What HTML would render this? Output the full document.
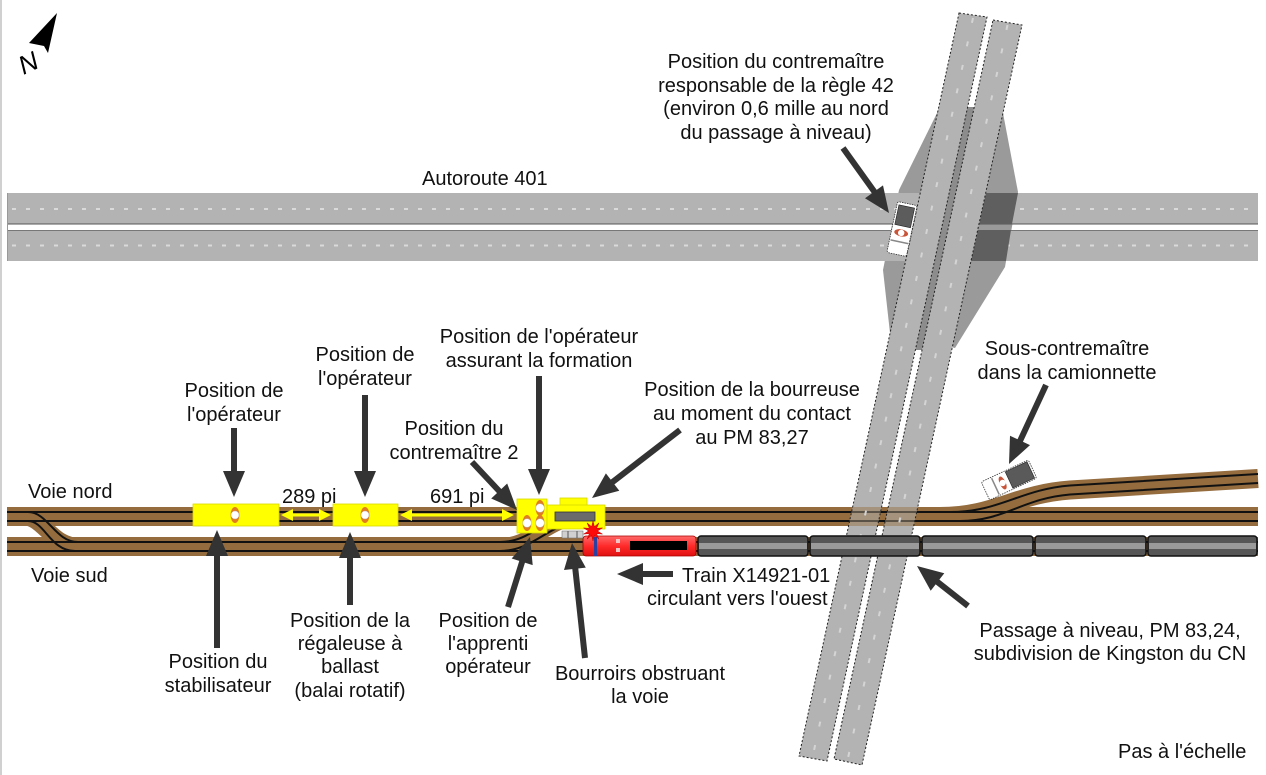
<!DOCTYPE html>
<html><head><meta charset="utf-8"><style>
html,body{margin:0;padding:0;background:#fff;}
svg{display:block;}
text{font-family:"Liberation Sans",Arial,sans-serif;font-size:20px;fill:#111;}
</style></head><body>
<svg width="1266" height="775" viewBox="0 0 1266 775" xmlns="http://www.w3.org/2000/svg">
<defs>
<linearGradient id="loco" x1="0" y1="0" x2="0" y2="1">
<stop offset="0" stop-color="#ff6a6a"/><stop offset="0.5" stop-color="#ff2a2a"/><stop offset="1" stop-color="#e01010"/>
</linearGradient>
<clipPath id="strips">
<polygon points="959,13 987,17 827,761 799,756"/>
<polygon points="993,20 1022,25 862,765 834,759"/>
</clipPath>
</defs>
<rect x="0" y="0" width="1266" height="775" fill="#fff"/>
<rect x="0" y="0" width="2" height="775" fill="#d0d0d0"/>

<!-- north arrow -->
<polygon points="57,13 29,43 44,46 48,53" fill="#000"/>
<text transform="translate(32,71) rotate(-25)" text-anchor="middle" style="font-size:26px;font-style:italic;fill:#000">N</text>

<!-- embankment -->
<polygon points="940,107 899,190 883,270 890,333 955,348 1005,267 1018,192 1003,113" fill="#9a9a9a"/>

<!-- highways -->
<rect x="7" y="193" width="1251" height="31" fill="#b3b3b3"/>
<rect x="7" y="230" width="1251" height="31" fill="#b3b3b3"/>
<line x1="7" y1="224" x2="1258" y2="224" stroke="#555" stroke-width="1"/>
<line x1="7" y1="230.5" x2="1258" y2="230.5" stroke="#777" stroke-width="1"/>
<line x1="7.5" y1="193" x2="7.5" y2="261" stroke="#999" stroke-width="1"/>
<line x1="12" y1="209" x2="1258" y2="209" stroke="#dadada" stroke-width="2" stroke-dasharray="4 10"/>
<line x1="12" y1="245.5" x2="1258" y2="245.5" stroke="#dadada" stroke-width="2" stroke-dasharray="4 10"/>
<!-- dark patches on right side over highway -->
<polygon points="986,193 1018,193 1012,224 979,224" fill="#5f5f5f"/>
<polygon points="978,230 1011,230 1006,261 971,261" fill="#5f5f5f"/>
<!-- median -->
<polygon points="967,107 975,107 922,350 915,350" fill="#8c8c8c"/>

<!-- tracks -->
<rect x="7" y="507" width="1251" height="19" fill="#946c3e"/>
<rect x="7" y="537" width="1251" height="19" fill="#946c3e"/>
<path d="M22 516.5 C45 516.5 50 546.5 80 546.5" stroke="#946c3e" stroke-width="17" fill="none"/>
<path d="M500 546.5 C535 546.5 545 516.5 585 516.5" stroke="#946c3e" stroke-width="17" fill="none"/>
<path d="M940 516.5 C995 516.5 1015 494 1070 490 L1258 478.5" stroke="#946c3e" stroke-width="19" fill="none"/>
<g stroke="#111" stroke-width="2" fill="none">
<line x1="7" y1="512" x2="1258" y2="512"/>
<line x1="7" y1="521" x2="1258" y2="521"/>
<line x1="7" y1="542" x2="1258" y2="542"/>
<line x1="7" y1="551" x2="1258" y2="551"/>
<path d="M28 512 C48 512 55 542 78 542"/>
<path d="M28 521 C45 521 50 551 75 551"/>
<path d="M500 542 C535 542 545 512 585 512"/>
<path d="M500 551 C535 551 550 521 585 521"/>
<path d="M950 512 C1000 512 1020 489.5 1070 485.5 L1258 474"/>
<path d="M960 521 C1005 521 1022 498.5 1070 494.5 L1258 483"/>
</g>

<!-- overpass strips -->
<polygon points="959,13 987,17 827,761 799,756" fill="#b3b3b3"/>
<polygon points="993,20 1022,25 862,765 834,759" fill="#b3b3b3"/>
<!-- track showing through strips -->
<g clip-path="url(#strips)">
<rect x="780" y="507" width="200" height="19" fill="#946c3e" opacity="0.45"/>
<line x1="780" y1="512" x2="980" y2="512" stroke="#111" stroke-width="2" opacity="0.5"/>
<line x1="780" y1="521" x2="980" y2="521" stroke="#111" stroke-width="2" opacity="0.5"/>
</g>
<g fill="none" stroke="#222" stroke-width="1" stroke-dasharray="2 2">
<polygon points="959,13 987,17 827,761 799,756"/>
<polygon points="993,20 1022,25 862,765 834,759"/>
</g>
<line x1="973" y1="18" x2="813" y2="755" stroke="#d4d4d4" stroke-width="2" stroke-dasharray="5 19"/>
<line x1="1007.5" y1="25" x2="848" y2="758" stroke="#d4d4d4" stroke-width="2" stroke-dasharray="5 19"/>

<!-- car on overpass -->
<g transform="translate(902,229) rotate(12)">
<rect x="-10" y="-26" width="20" height="52" rx="2" fill="#fff" stroke="#333" stroke-width="0.8" stroke-dasharray="1.5 1"/>
<rect x="-8" y="-23" width="16" height="20" fill="#5c5c5c" stroke="#222" stroke-width="0.6"/>
<ellipse cx="0" cy="4" rx="7" ry="3.5" fill="#c8553a"/>
<circle cx="0" cy="4" r="3.2" fill="#fff"/>
<line x1="-9" y1="13" x2="9" y2="13" stroke="#888" stroke-width="1.5"/>
</g>

<!-- camionnette -->
<g transform="translate(1009,480) rotate(-25)">
<rect x="-26" y="-10" width="52" height="20" rx="2" fill="#fff" stroke="#333" stroke-width="0.8" stroke-dasharray="1.5 1"/>
<rect x="0" y="-9" width="24" height="18" fill="#5a5a5a" stroke="#222" stroke-width="0.6"/>
<line x1="-15" y1="-9" x2="-15" y2="9" stroke="#888" stroke-width="1.5"/>
<ellipse cx="-7" cy="0" rx="3" ry="7" fill="#c8553a"/>
<circle cx="-7" cy="0" r="3.2" fill="#fff"/>
</g>

<!-- machines -->
<rect x="193" y="504" width="86" height="22" fill="#ffff00" stroke="#d8d800" stroke-width="0.8"/>
<rect x="333" y="504" width="65" height="22" fill="#ffff00" stroke="#d8d800" stroke-width="0.8"/>
<g>
<ellipse cx="235" cy="515" rx="4.5" ry="8" fill="#e07d20"/>
<circle cx="235" cy="515" r="4" fill="#fff" stroke="#bbb" stroke-width="0.5"/>
<ellipse cx="365" cy="515" rx="4.5" ry="8" fill="#e07d20"/>
<circle cx="365" cy="515" r="4" fill="#fff" stroke="#bbb" stroke-width="0.5"/>
</g>
<!-- bourroirs -->
<rect x="562" y="531" width="21" height="7" fill="#d0d0d0" stroke="#777" stroke-width="0.6"/>
<line x1="568" y1="531" x2="568" y2="538" stroke="#555"/><line x1="577" y1="531" x2="577" y2="538" stroke="#555"/>
<!-- operator box -->
<rect x="517" y="499" width="30" height="34" fill="#ffff00" stroke="#d8d800" stroke-width="0.8"/>
<ellipse cx="540" cy="508" rx="4.5" ry="8" fill="#e07d20"/>
<circle cx="540" cy="508" r="4.3" fill="#fff" stroke="#bbb" stroke-width="0.5"/>
<ellipse cx="527" cy="523" rx="4.5" ry="8" fill="#e07d20"/>
<circle cx="527" cy="523" r="4.3" fill="#fff" stroke="#bbb" stroke-width="0.5"/>
<ellipse cx="540" cy="523" rx="4.5" ry="8" fill="#e07d20"/>
<circle cx="540" cy="523" r="4.3" fill="#fff" stroke="#bbb" stroke-width="0.5"/>
<!-- tamper -->
<rect x="560" y="498" width="27" height="8" fill="#ffff00" stroke="#d8d800" stroke-width="0.8"/>
<rect x="547" y="505" width="58" height="24" fill="#ffff00" stroke="#d8d800" stroke-width="0.8"/>
<rect x="555" y="512" width="40" height="9" fill="#6b6b6b" stroke="#333" stroke-width="0.8"/>

<!-- train -->
<rect x="583" y="536" width="113" height="20" rx="3" fill="url(#loco)" stroke="#a00" stroke-width="0.8"/>
<rect x="594" y="537" width="3" height="19" fill="#2a3fa0"/>
<rect x="616" y="539" width="4" height="4" fill="#f4c4c4"/>
<rect x="616" y="548" width="4" height="4" fill="#f4c4c4"/>
<rect x="630" y="541" width="57" height="9" fill="#000"/>
<g stroke="#111" stroke-width="1.5">
<rect x="698" y="536" width="110" height="20" rx="3" fill="#565656"/>
<rect x="810" y="536" width="110" height="20" rx="3" fill="#565656"/>
<rect x="922" y="536" width="111" height="20" rx="3" fill="#565656"/>
<rect x="1035" y="536" width="111" height="20" rx="3" fill="#565656"/>
<rect x="1148" y="536" width="109" height="20" rx="3" fill="#565656"/>
</g>
<g fill="#9a9a9a">
<rect x="699" y="543" width="108" height="6"/>
<rect x="811" y="543" width="108" height="6"/>
<rect x="923" y="543" width="109" height="6"/>
<rect x="1036" y="543" width="109" height="6"/>
<rect x="1149" y="543" width="107" height="6"/>
</g>
<polygon points="593,521 594.4,526.7 598.9,522.9 596.6,528.4 602.5,527.9 597.5,531 602.5,534.1 596.6,533.6 598.9,539.1 594.4,535.3 593,541 591.6,535.3 587.1,539.1 589.4,533.6 583.5,534.1 588.5,531 583.5,527.9 589.4,528.4 587.1,522.9 591.6,526.7" fill="#ff0a0a" stroke="#b00" stroke-width="0.5"/>

<!-- yellow distance arrows -->
<g fill="#ffff00" stroke="#ffff00">
<line x1="290" y1="515" x2="322" y2="515" stroke-width="3"/>
<polygon points="281,515 293,509 293,521" stroke="none"/>
<polygon points="331,515 319,509 319,521" stroke="none"/>
<line x1="409" y1="515" x2="505" y2="515" stroke-width="3"/>
<polygon points="400,515 412,509 412,521" stroke="none"/>
<polygon points="514,515 502,509 502,521" stroke="none"/>
</g>

<!-- dark arrows -->
<g stroke="#333" stroke-width="6" fill="none">
<line x1="234" y1="428" x2="234" y2="474"/>
<line x1="365" y1="395" x2="365" y2="474"/>
<line x1="539" y1="376" x2="539" y2="472"/>
<line x1="472" y1="462" x2="501" y2="493"/>
<line x1="680" y1="430" x2="610" y2="484"/>
<line x1="843" y1="148" x2="876" y2="194"/>
<line x1="1046" y1="385" x2="1020" y2="441"/>
<line x1="217" y1="648" x2="217" y2="553"/>
<line x1="350" y1="605" x2="350" y2="555"/>
<line x1="508" y1="607" x2="523" y2="559"/>
<line x1="585" y1="658" x2="575" y2="566"/>
<line x1="673" y1="574" x2="640" y2="574"/>
<line x1="968" y1="606" x2="935" y2="580"/>
</g>
<g fill="#333">
<polygon points="234,497 223,471 245,471"/>
<polygon points="365,497 354,471 376,471"/>
<polygon points="539,495 528,469 550,469"/>
<polygon points="517,510 491.2,498.5 507.2,483.5"/>
<polygon points="592,498 605.9,473.4 619.3,490.8"/>
<polygon points="889,213 865,198.2 883,185.4"/>
<polygon points="1009,464 1010,435.7 1030,445.1"/>
<polygon points="217,530 206,556 228,556"/>
<polygon points="350,532 339,558 361,558"/>
<polygon points="530,537 532.7,565.1 511.7,558.5"/>
<polygon points="572,543 585.8,567.6 564,570"/>
<polygon points="617,574 643,563 643,585"/>
<polygon points="917,566 944.3,573.3 930.7,590.7"/>
</g>

<!-- labels -->
<text x="422" y="185">Autoroute 401</text>
<g text-anchor="middle">
<text x="776" y="68">Position du contremaître</text>
<text x="776" y="92">responsable de la règle 42</text>
<text x="776" y="115">(environ 0,6 mille au nord</text>
<text x="776" y="139">du passage à niveau)</text>
<text x="1067" y="355">Sous-contremaître</text>
<text x="1067" y="379">dans la camionnette</text>
<text x="539" y="343">Position de l'opérateur</text>
<text x="539" y="367">assurant la formation</text>
<text x="365" y="361">Position de</text>
<text x="365" y="385">l'opérateur</text>
<text x="234" y="397">Position de</text>
<text x="234" y="421">l'opérateur</text>
<text x="752" y="396">Position de la bourreuse</text>
<text x="752" y="420">au moment du contact</text>
<text x="752" y="444">au PM 83,27</text>
<text x="454" y="435">Position du</text>
<text x="454" y="459">contremaître 2</text>
<text x="1110" y="637">Passage à niveau, PM 83,24,</text>
<text x="1110" y="660">subdivision de Kingston du CN</text>
<text x="350" y="627">Position de la</text>
<text x="350" y="650">régaleuse à</text>
<text x="350" y="673">ballast</text>
<text x="350" y="697">(balai rotatif)</text>
<text x="218" y="668">Position du</text>
<text x="218" y="692">stabilisateur</text>
<text x="488" y="627">Position de</text>
<text x="488" y="650">l'apprenti</text>
<text x="488" y="673">opérateur</text>
<text x="640" y="680">Bourroirs obstruant</text>
<text x="640" y="703">la voie</text>
</g>
<text x="28" y="498">Voie nord</text>
<text x="31" y="582">Voie sud</text>
<text x="282" y="503">289 pi</text>
<text x="430" y="503">691 pi</text>
<text x="682" y="582">Train X14921-01</text>
<text x="647" y="605">circulant vers l'ouest</text>
<text x="1118" y="758">Pas à l'échelle</text>
</svg>
</body></html>
